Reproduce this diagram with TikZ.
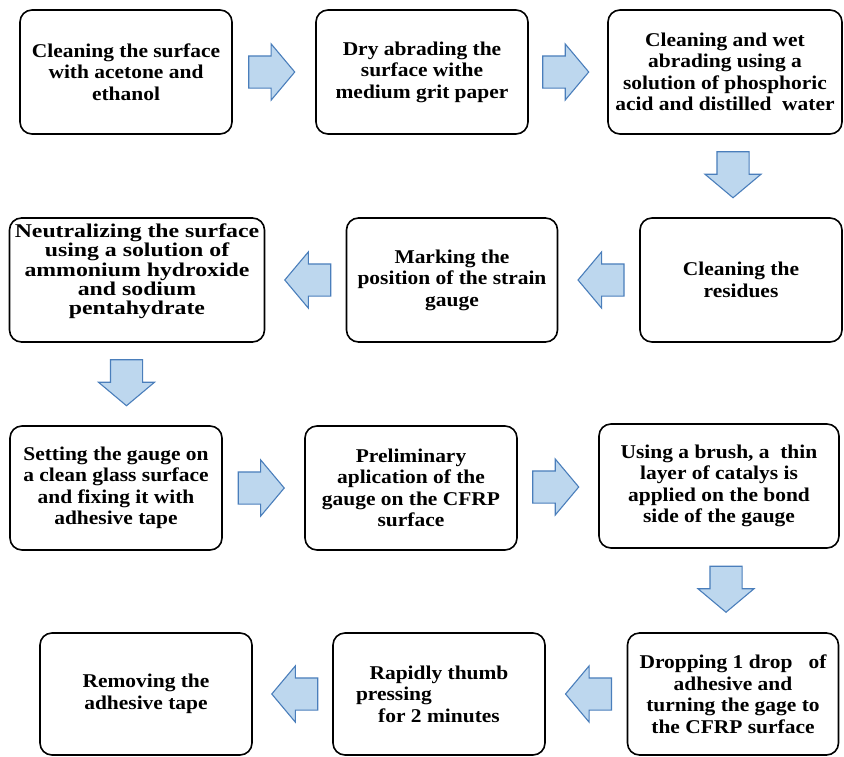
\documentclass[tikz,border=0pt]{standalone}
\usepackage{fontspec}
\setmainfont{Liberation Serif}[FakeStretch=1.10]
\usepackage{xcolor}
\usepackage{tikz}
\usetikzlibrary{shapes.arrows,calc}
\definecolor{arrowfill}{HTML}{BDD7EE}
\definecolor{arrowline}{HTML}{4A7EBB}

\begin{document}
\begin{tikzpicture}[x=1pt, y=-1pt,
  box/.style={draw=black, line width=1.6pt, rounded corners=12pt, fill=white, align=center,
              minimum width=212pt, minimum height=124pt, inner sep=0pt,
              font=\bfseries\fontsize{19.5}{21.5}\selectfont},
  widebox/.style={box, minimum width=255pt,
              font=\bfseries\addfontfeatures{FakeStretch=1.22}\fontsize{19.5}{19.3}\selectfont},
  blockarr/.style={single arrow, draw=arrowline, fill=arrowfill, line width=1.1pt,
                   minimum height=46pt, single arrow head extend=12pt,
                   single arrow tip angle=100, inner sep=15.5pt},
  rarr/.style={blockarr, shape border rotate=0, xshift=-9pt},
  larr/.style={blockarr, shape border rotate=180, xshift=9pt},
  darr/.style={blockarr, shape border rotate=270, yshift=8pt}
]
\useasboundingbox (0,0) rectangle (844,756);

% first row
\node[box] (acetone) at (126,72) {Cleaning the surface\\with acetone and\\ethanol};
\node[box] (dry) at (422,72) {Dry abrading the\\surface withe\\medium grit paper};
\node[box, minimum width=234pt] (wet) at (725,72) {Cleaning and wet\\abrading using a\\solution of phosphoric\\acid and distilled\ \ water};
\node[rarr] (a1) at ($(acetone.east)!0.5!(dry.west)$) {};
\node[rarr] (a2) at ($(dry.east)!0.5!(wet.west)$) {};

% second row
\node[box, minimum width=202pt] (residue) at (741,280) {Cleaning the\\residues};
\node[box, minimum width=211pt] (mark) at (452,280) {Marking the\\position of the strain\\gauge};
\node[widebox] (neutral) at (137,280) {Neutralizing the surface\\using a solution of\\ammonium hydroxide\\and sodium\\pentahydrate\\[2pt]\mbox{}};
\node[darr] (a3) at ($(wet.south)!0.5!(residue.north)$) {};
\node[larr] (a4) at ($(residue.west)!0.5!(mark.east)$) {};
\node[larr] (a5) at ($(mark.west)!0.5!(neutral.east)$) {};

% third row
\node[box] (glass) at (116,488) {Setting the gauge on\\a clean glass surface\\and fixing it with\\adhesive tape};
\node[box] (prelim) at (411,488) {Preliminary\\aplication of the\\gauge on the CFRP\\surface};
\node[box, minimum width=240pt] (brush) at (719,486) {Using a brush, a\ \ thin\\layer of catalys is\\applied on the bond\\side of the gauge};
\node[darr] (a6) at ($(neutral.south)!0.5!(glass.north)$) {};
\node[rarr] (a7) at ($(glass.east)!0.5!(prelim.west)$) {};
\node[rarr] (a8) at ($(prelim.east)!0.5!(brush.west)$) {};

% fourth row
\node[box, minimum width=211pt, minimum height=122pt] (drop) at (733,694) {Dropping 1 drop\ \ \ of\\adhesive and\\turning the gage to\\the CFRP surface};
\node[box, minimum height=122pt] (thumb) at (439,694) {Rapidly thumb\\\makebox[166pt][l]{pressing}\\for 2 minutes};
\node[box, minimum height=122pt] (remove) at (146,694) {Removing the\\adhesive tape};
\node[darr] (a9) at ($(brush.south)!0.5!(drop.north)$) {};
\node[larr] (a10) at ($(drop.west)!0.5!(thumb.east)$) {};
\node[larr] (a11) at ($(thumb.west)!0.5!(remove.east)$) {};
\end{tikzpicture}
\end{document}
